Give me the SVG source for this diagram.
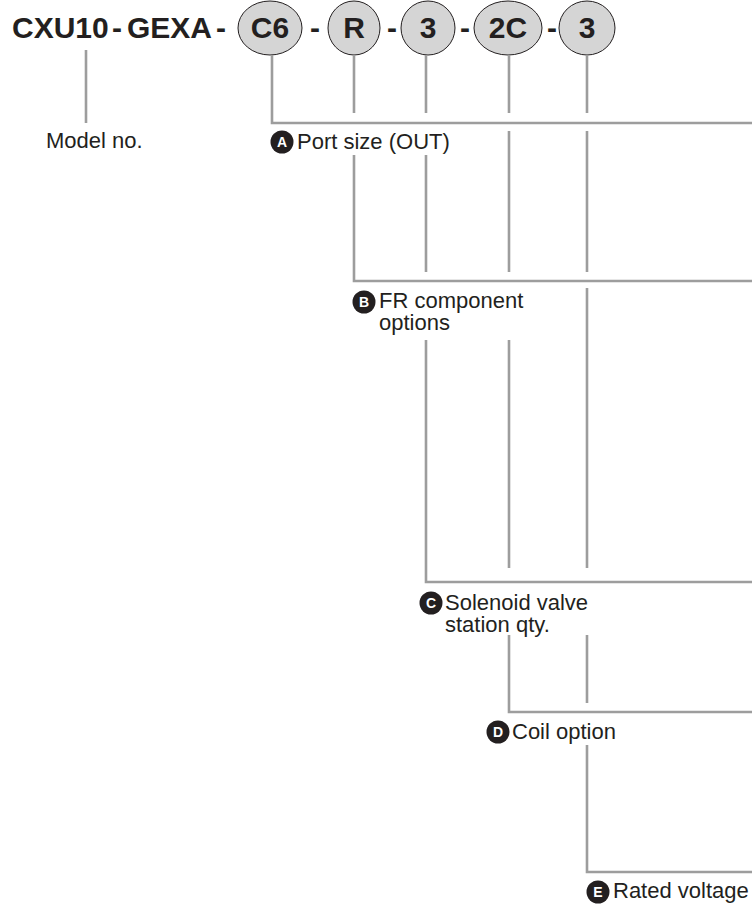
<svg xmlns="http://www.w3.org/2000/svg" width="752" height="904" viewBox="0 0 752 904">
<style>
.t{font-family:"Liberation Sans",Arial,sans-serif;font-weight:bold;font-size:30px;fill:#231f20}
.c{text-anchor:middle}
.o{fill:#d5d5d5;stroke:#231f20;stroke-width:1}
.l{font-family:"Liberation Sans",Arial,sans-serif;font-size:22px;fill:#231f20}
.b{fill:#231f20}
.bl{font-family:"Liberation Sans",Arial,sans-serif;font-weight:bold;font-size:14px;fill:#fff;text-anchor:middle}
.w{fill:none;stroke:#9d9d9d;stroke-width:2.6}
</style>
<rect width="752" height="904" fill="#fff"/>
<g id="title">
<text class="t" y="38"><tspan x="12">CXU10</tspan><tspan x="112">-</tspan><tspan x="127">GEXA</tspan><tspan x="216">-</tspan></text>
</g>
<g id="seg-c6"><ellipse class="o" cx="270" cy="28" rx="32" ry="27"/><text class="t c" x="270" y="38">C6</text></g>
<text class="t c" x="315" y="38">-</text>
<g id="seg-r"><ellipse class="o" cx="354" cy="28" rx="26" ry="27"/><text class="t c" x="354" y="38">R</text></g>
<text class="t c" x="392" y="38">-</text>
<g id="seg-3a"><ellipse class="o" cx="428" cy="28" rx="27" ry="27"/><text class="t c" x="428" y="38">3</text></g>
<text class="t c" x="465" y="38">-</text>
<g id="seg-2c"><ellipse class="o" cx="508" cy="28" rx="34" ry="27"/><text class="t c" x="508" y="38">2C</text></g>
<text class="t c" x="552" y="38">-</text>
<g id="seg-3b"><ellipse class="o" cx="587" cy="28" rx="28" ry="27"/><text class="t c" x="587" y="38">3</text></g>
<g id="connectors">
<path class="w" d="M86 50V123"/>
<path class="w" d="M272 55V123H752"/>
<path class="w" d="M354 55V113M354 155V281H752"/>
<path class="w" d="M426 55V113M426 155V272M426 340V582H752"/>
<path class="w" d="M509 55V113M509 131V272M509 340V568M509 635V712H752"/>
<path class="w" d="M587 55V113M587 131V272M587 288V568M587 635V703M587 745V872H752"/>
</g>
<g id="label-model"><text class="l" x="46" y="148">Model no.</text></g>
<g id="label-a"><circle class="b" cx="282" cy="142" r="11.5"/><text class="bl" x="282" y="147">A</text><text class="l" x="297" y="149">Port size (OUT)</text></g>
<g id="label-b"><circle class="b" cx="364" cy="302" r="11.5"/><text class="bl" x="364" y="307">B</text><text class="l" x="379" y="308">FR component</text><text class="l" x="379" y="330">options</text></g>
<g id="label-c"><circle class="b" cx="431" cy="603" r="11.5"/><text class="bl" x="431" y="608">C</text><text class="l" x="445" y="610">Solenoid valve</text><text class="l" x="445" y="632">station qty.</text></g>
<g id="label-d"><circle class="b" cx="498" cy="732" r="11.5"/><text class="bl" x="498" y="737">D</text><text class="l" x="512" y="739">Coil option</text></g>
<g id="label-e"><circle class="b" cx="598" cy="892" r="11.5"/><text class="bl" x="598" y="897">E</text><text class="l" x="613" y="898">Rated voltage</text></g>
</svg>
